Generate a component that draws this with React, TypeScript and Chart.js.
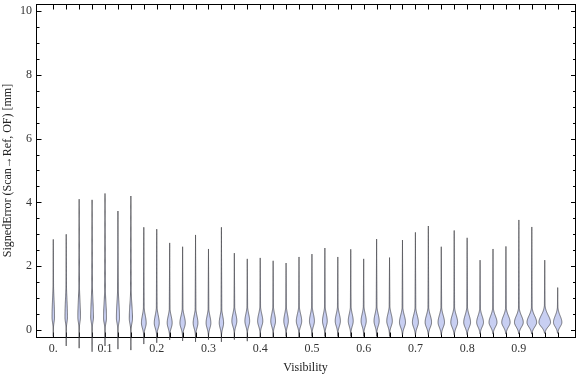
import React, { useEffect, useRef } from "react";
import { Chart, registerables } from "chart.js";

Chart.register(...registerables);

// Violin positions (Visibility)
const positions = [
  0, 0.025, 0.05, 0.075, 0.1, 0.125, 0.15, 0.175, 0.2, 0.225,
  0.25, 0.275, 0.3, 0.325, 0.35, 0.375, 0.4, 0.425, 0.45, 0.475,
  0.5, 0.525, 0.55, 0.575, 0.6, 0.625, 0.65, 0.675, 0.7, 0.725,
  0.75, 0.775, 0.8, 0.825, 0.85, 0.875, 0.9, 0.925, 0.95, 0.975,
];

// Maximum signed error of each distribution [mm]
const maxima = [
  2.84, 3.0, 4.1, 4.08, 4.28, 3.73, 4.2, 3.22, 3.16, 2.73,
  2.61, 2.98, 2.54, 3.22, 2.41, 2.23, 2.26, 2.17, 2.1, 2.29,
  2.38, 2.57, 2.29, 2.53, 2.23, 2.85, 2.27, 2.82, 3.06, 3.26,
  2.61, 3.12, 2.89, 2.19, 2.54, 2.62, 3.45, 3.23, 2.19, 1.33,
];

// Minimum signed error of each distribution [mm]
const minima = [
  -0.2, -0.5, -0.57, -0.68, -0.5, -0.6, -0.63, -0.44, -0.4, -0.31,
  -0.34, -0.37, -0.3, -0.37, -0.3, -0.35, -0.25, -0.25, -0.2, -0.25,
  -0.2, -0.2, -0.2, -0.2, -0.2, -0.2, -0.2, -0.15, -0.15, -0.15,
  -0.15, -0.15, -0.15, -0.12, -0.12, -0.12, -0.12, -0.12, -0.1, -0.1,
];

// Mode (peak of the density) of each distribution [mm]
const modes = [
  0.4, 0.4, 0.4, 0.4, 0.38, 0.38, 0.36, 0.22, 0.22, 0.22,
  0.22, 0.22, 0.22, 0.22, 0.28, 0.28, 0.28, 0.28, 0.28, 0.28,
  0.28, 0.28, 0.28, 0.28, 0.28, 0.28, 0.28, 0.24, 0.24, 0.24,
  0.24, 0.24, 0.24, 0.24, 0.24, 0.24, 0.24, 0.24, 0.24, 0.24,
];

// Peak density half-width (in Visibility units)
const peakWidths = [
  0.0024, 0.0024, 0.0025, 0.0026, 0.0028, 0.003, 0.0031, 0.0046, 0.0048, 0.0048,
  0.0052, 0.0046, 0.0046, 0.0042, 0.0048, 0.0046, 0.005, 0.0046, 0.0044, 0.0052,
  0.0048, 0.0046, 0.005, 0.0048, 0.005, 0.005, 0.0054, 0.0058, 0.0058, 0.0062,
  0.0062, 0.0066, 0.0066, 0.0066, 0.0077, 0.0081, 0.0085, 0.0093, 0.0112, 0.0081,
];

// Spread of the main density bump [mm]
const spreads = [
  0.55, 0.55, 0.55, 0.55, 0.5, 0.5, 0.45, 0.24, 0.24, 0.22,
  0.22, 0.22, 0.22, 0.22, 0.22, 0.22, 0.22, 0.22, 0.22, 0.22,
  0.22, 0.22, 0.22, 0.22, 0.22, 0.22, 0.22, 0.22, 0.22, 0.22,
  0.22, 0.22, 0.22, 0.2, 0.2, 0.2, 0.2, 0.2, 0.22, 0.2,
];

const xTickValues = [0, 0.1, 0.2, 0.3, 0.4, 0.5, 0.6, 0.7, 0.8, 0.9];
const xTickLabels = ["0.", "0.1", "0.2", "0.3", "0.4", "0.5", "0.6", "0.7", "0.8", "0.9"];
const yTickValues = [0, 2, 4, 6, 8, 10];
const yTickLabels = ["0", "2", "4", "6", "8", "10"];

const FONT = "'Liberation Serif', 'Times New Roman', Times, serif";

function halfWidth(i: number, y: number): number {
  const m = modes[i];
  const s = spreads[i];
  const w = peakWidths[i];
  const lo = minima[i];
  const hi = maxima[i];
  let bump: number;
  let t: number;
  if (y >= m) {
    bump = w * Math.exp(-0.5 * ((y - m) / s) ** 2);
    t = 0.0009 * (hi - y) / (hi - m);
  } else {
    const sl = Math.min(s, (m - lo) / 2.5, 0.16);
    bump = w * Math.exp(-0.5 * ((y - m) / sl) ** 2);
    t = 0.0003 * (y - lo) / (m - lo);
  }
  return Math.max(bump, t, 0);
}

export default function App() {
  const ref = useRef<HTMLCanvasElement>(null);

  useEffect(() => {
    const canvas = ref.current;
    if (!canvas) return;

    const framePlugin = {
      id: "violinFrame",
      afterDatasetsDraw(chart: any) {
        const { ctx, chartArea, scales } = chart;
        const xs = scales.x;
        const ys = scales.y;
        const L = chartArea.left;
        const R = chartArea.right;
        const T = chartArea.top;
        const B = chartArea.bottom;
        ctx.save();
        ctx.strokeStyle = "#000";
        ctx.lineWidth = 1;
        ctx.beginPath();
        ctx.moveTo(L, T + 0.5);
        ctx.lineTo(R + 1, T + 0.5);
        ctx.moveTo(R + 0.5, T);
        ctx.lineTo(R + 0.5, B + 1);
        for (let v = 0; v <= 10.001; v += 0.5) {
          const py = Math.round(ys.getPixelForValue(v)) + 0.5;
          const major = Math.abs(v / 2 - Math.round(v / 2)) < 1e-6;
          const len = major ? 4.5 : 2.5;
          ctx.moveTo(L + 1, py);
          ctx.lineTo(L + 1 + len, py);
          ctx.moveTo(R + 0.5, py);
          ctx.lineTo(R + 0.5 - len, py);
        }
        positions.forEach((p) => {
          const px = Math.round(xs.getPixelForValue(p)) + 0.5;
          ctx.moveTo(px, T + 1);
          ctx.lineTo(px, T + 5.5);
          ctx.moveTo(px, B);
          ctx.lineTo(px, B - 4.5);
        });
        ctx.stroke();

        const N = 140;
        positions.forEach((p, i) => {
          const lo = minima[i];
          const hi = maxima[i];
          const right: [number, number][] = [];
          const left: [number, number][] = [];
          for (let k = 0; k <= N; k++) {
            const y = lo + ((hi - lo) * k) / N;
            const hw = halfWidth(i, y);
            const py = ys.getPixelForValue(y);
            right.push([xs.getPixelForValue(p + hw), py]);
            left.push([xs.getPixelForValue(p - hw), py]);
          }
          ctx.beginPath();
          ctx.moveTo(right[0][0], right[0][1]);
          for (let k = 1; k < right.length; k++) ctx.lineTo(right[k][0], right[k][1]);
          for (let k = left.length - 1; k >= 0; k--) ctx.lineTo(left[k][0], left[k][1]);
          ctx.closePath();
          ctx.fillStyle = "#c8cff2";
          ctx.fill();
          ctx.strokeStyle = "rgba(50,50,55,0.8)";
          ctx.lineWidth = 0.8;
          ctx.stroke();
        });
        ctx.restore();
      },
    };

    const chart = new Chart(canvas, {
      type: "scatter",
      data: {
        datasets: [
          {
            data: positions.map((p, i) => ({ x: p, y: maxima[i] })),
            pointRadius: 0,
            showLine: false,
          },
        ],
      },
      options: {
        responsive: false,
        animation: false,
        devicePixelRatio: 1,
        layout: { padding: { top: 4, right: 1, left: 0, bottom: 0 } },
        plugins: {
          legend: { display: false },
          tooltip: { enabled: false },
        },
        scales: {
          x: {
            type: "linear",
            min: -0.0334,
            max: 1.0085,
            grid: { display: false, drawTicks: false },
            border: { display: true, color: "#000", width: 1 },
            ticks: {
              padding: 5,
              color: "#333",
              font: { family: FONT, size: 12 },
              maxRotation: 0,
              autoSkip: false,
              callback: (value: any) => {
                const idx = xTickValues.findIndex((t) => Math.abs(t - Number(value)) < 1e-9);
                return idx >= 0 ? xTickLabels[idx] : "";
              },
            },
            title: {
              display: true,
              text: "Visibility",
              color: "#222",
              font: { family: FONT, size: 12 },
              padding: { top: 0, bottom: 2 },
            },
            afterBuildTicks: (s: any) => {
              s.ticks = xTickValues.map((v) => ({ value: v }));
            },
            afterFit: (s: any) => {
              s.height = 40;
              s.paddingLeft = 0;
              s.paddingRight = 0;
            },
          },
          y: {
            type: "linear",
            min: -0.219,
            max: 10.219,
            grid: { display: false, drawTicks: false },
            border: { display: true, color: "#000", width: 1 },
            ticks: {
              padding: 4,
              color: "#333",
              font: { family: FONT, size: 12 },
              callback: (value: any) => {
                const idx = yTickValues.findIndex((t) => Math.abs(t - Number(value)) < 1e-9);
                return idx >= 0 ? yTickLabels[idx] : "";
              },
            },
            title: {
              display: true,
              text: "SignedError (Scan\u2192Ref, OF) [mm]",
              color: "#222",
              font: { family: FONT, size: 12 },
              padding: { top: 1, bottom: 0 },
            },
            afterBuildTicks: (s: any) => {
              s.ticks = yTickValues.map((v) => ({ value: v }));
            },
            afterFit: (s: any) => {
              s.width = 36;
              s.paddingTop = 0;
              s.paddingBottom = 0;
            },
          },
        },
      },
      plugins: [framePlugin],
    } as any);

    return () => chart.destroy();
  }, []);

  return (
    <div style={{ position: "fixed", left: 0, top: 0, width: 576, height: 377, background: "#fff" }}>
      <canvas ref={ref} width={576} height={377} style={{ display: "block" }} />
    </div>
  );
}
